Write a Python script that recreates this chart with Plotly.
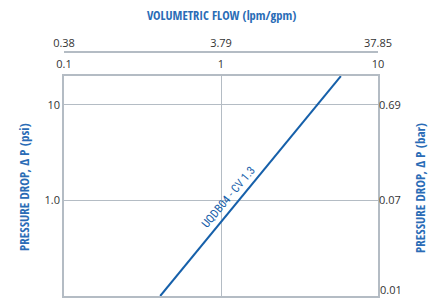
import math
import plotly.graph_objects as go

# Data
flow_gpm = [0.41, 5.8]          # line end points (gpm)
dp_psi = [0.1, 19.9]            # pressure drop (psi)
series_label = "UQDB04 - CV 1.3"

x_tickvals = [0.1, 1, 10]
x_ticktext = ["0.1", "1", "10"]
x2_ticktext = ["0.38", "3.79", "37.85"]   # lpm
y_tickvals = [1, 10]
y_ticktext = ["1.0", "10"]
y2_tickvals = [0.1, 1, 10]
y2_ticktext = ["0.01", "0.07", "0.69"]   # bar

BLUE = "#1660aa"
TITLE_BLUE = "#2a6cb6"
GRID = "#b4bcc4"
TICK = "#333333"
TITLE_FONT = "Open Sans Condensed, Roboto Condensed, sans-serif"
LABEL_FONT = "Roboto Condensed, Open Sans Condensed, sans-serif"
TICK_FONT = "Open Sans, DejaVu Sans, sans-serif"

W, H = 438, 299
ml, mr, mt, mb = 64, 60, 52, 3
plot_top = 76
ydom_top = (H - mb - plot_top) / (H - mb - mt)

fig = go.Figure()
fig.add_trace(go.Scatter(x=flow_gpm, y=dp_psi, mode="lines",
                         line=dict(color=BLUE, width=2), showlegend=False,
                         hoverinfo="skip"))
# invisible traces to activate secondary axes
fig.add_trace(go.Scatter(x=flow_gpm, y=dp_psi, xaxis="x2", yaxis="y", mode="lines",
                         line=dict(width=0), opacity=0, showlegend=False, hoverinfo="skip"))
fig.add_trace(go.Scatter(x=flow_gpm, y=dp_psi, xaxis="x", yaxis="y2", mode="lines",
                         line=dict(width=0), opacity=0, showlegend=False, hoverinfo="skip"))

xrange = [-1, 1]
yrange = [-1, 1.3]

# label along the line
t = 0.42
lx = math.log10(flow_gpm[0]) + t * (math.log10(flow_gpm[1]) - math.log10(flow_gpm[0]))
ly = math.log10(dp_psi[0]) + t * (math.log10(dp_psi[1]) - math.log10(dp_psi[0]))
fig.add_annotation(x=lx, y=ly, xref="x", yref="y", text=series_label,
                   showarrow=False, textangle=-50, xshift=-8, yshift=7,
                   font=dict(family=LABEL_FONT, size=11.5, color=BLUE))

fig.update_layout(
    width=W, height=H,
    margin=dict(l=ml, r=mr, t=mt, b=mb),
    paper_bgcolor="white", plot_bgcolor="white",
    xaxis=dict(type="log", range=xrange, side="top", tickvals=x_tickvals,
               ticktext=x_ticktext, showgrid=True, gridcolor=GRID, gridwidth=1,
               showline=True, linecolor=GRID, linewidth=1.5, mirror=True,
               ticks="", ticklabelstandoff=2, automargin=False,
               tickfont=dict(family=TICK_FONT, size=11, color=TICK), zeroline=False),
    xaxis2=dict(type="log", range=xrange, overlaying="x", side="top", anchor="free",
                position=1, tickvals=x_tickvals, ticktext=x2_ticktext, showgrid=False,
                showline=True, linecolor=GRID, linewidth=1.5, ticks="",
                automargin=False,
                tickfont=dict(family=TICK_FONT, size=11, color=TICK), zeroline=False),
    yaxis=dict(type="log", range=yrange, domain=[0, ydom_top], tickvals=y_tickvals,
               ticktext=y_ticktext, showgrid=True, gridcolor=GRID, gridwidth=1,
               showline=True, linecolor=GRID, linewidth=1.5, mirror=True, ticks="",
               automargin=False,
               tickfont=dict(family=TICK_FONT, size=11, color=TICK), zeroline=False),
    yaxis2=dict(type="log", range=yrange, overlaying="y", side="right",
                tickvals=y2_tickvals[1:], ticktext=y2_ticktext[1:], showgrid=False,
                showline=False, ticks="", automargin=False,
                tickfont=dict(family=TICK_FONT, size=11, color=TICK), zeroline=False),
)

# bottom bar label kept inside the page (would be clipped as an axis tick label)
fig.add_annotation(text=y2_ticktext[0], xref="paper", yref="y2",
                   x=1, y=math.log10(y2_tickvals[0]), xanchor="left", yanchor="bottom",
                   xshift=1, yshift=-2, borderpad=0, showarrow=False,
                   font=dict(family=TICK_FONT, size=11, color=TICK))

fig.add_annotation(text="<b>VOLUMETRIC FLOW (lpm/gpm)</b>", xref="paper", yref="paper",
                   x=0.5, y=1, yshift=47, showarrow=False,
                   font=dict(family=TITLE_FONT, size=12.5, color=TITLE_BLUE))
fig.add_annotation(text="<b>PRESSURE DROP, \u0394 P (psi)</b>", xref="paper", yref="paper",
                   x=0, xshift=-51, y=(299 - 3 - 187) / (299 - 3 - 52), yanchor="middle",
                   textangle=-90, showarrow=False,
                   font=dict(family=TITLE_FONT, size=13, color=TITLE_BLUE))
fig.add_annotation(text="<b>PRESSURE DROP, \u0394 P (bar)</b>", xref="paper", yref="paper",
                   x=1, xshift=53, y=(299 - 3 - 188) / (299 - 3 - 52), yanchor="middle",
                   textangle=-90, showarrow=False,
                   font=dict(family=TITLE_FONT, size=13, color=TITLE_BLUE))

fig.write_html("out.html", config={"displayModeBar": False},
               post_script="document.body.style.margin='0';")
